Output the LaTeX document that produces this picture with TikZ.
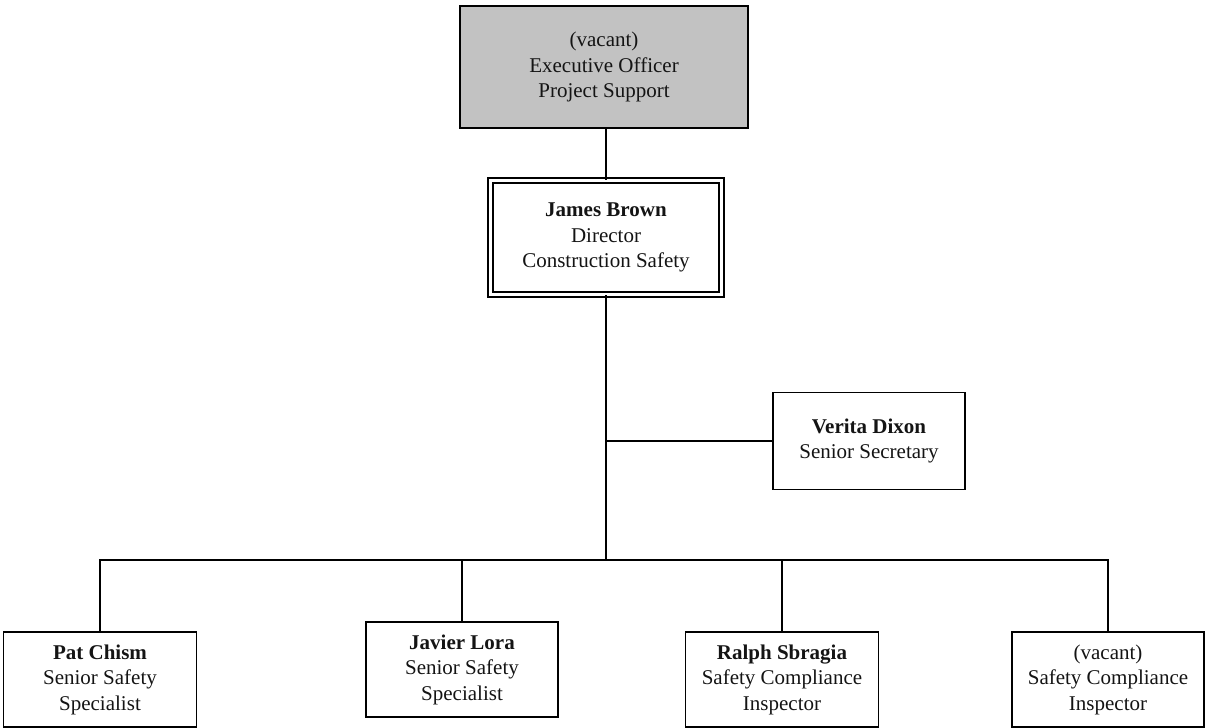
\documentclass[tikz,border=0pt]{standalone}
\usepackage{fontspec}
\setmainfont{Liberation Serif}
\definecolor{boxgray}{RGB}{194,194,194}
\tikzset{
  box/.style={draw=black, line width=1.8pt, align=center, inner sep=0pt,
    font=\fontsize{21}{25.5}\selectfont, text=black!92},
  conn/.style={draw=black, line width=1.8pt},
}
\begin{document}
\begin{tikzpicture}[x=1pt,y=-1pt]
\useasboundingbox (0,0) rectangle (1205,728);
\node[box, fill=boxgray, minimum width=288pt, minimum height=122pt] (top) at (604,67)
  {(vacant)\\Executive Officer\\Project Support};
\node[box, double, double distance=3.5pt, line width=1.3pt, minimum width=231pt, minimum height=114pt] (james) at (606,237.5)
  {\textbf{James Brown}\\Director\\Construction Safety};
\node[box, minimum width=192pt, minimum height=97pt] (verita) at (869,441)
  {\textbf{Verita Dixon}\\Senior Secretary};
\node[box, minimum width=193pt, minimum height=95pt] (pat) at (100,679.5)
  {\textbf{Pat Chism}\\Senior Safety\\Specialist};
\node[box, minimum width=192pt, minimum height=95pt] (javier) at (462,669.5)
  {\textbf{Javier Lora}\\Senior Safety\\Specialist};
\node[box, minimum width=193pt, minimum height=95pt] (ralph) at (782,679.5)
  {\textbf{Ralph Sbragia}\\Safety Compliance\\Inspector};
\node[box, minimum width=192pt, minimum height=95pt] (vac) at (1108,679.5)
  {(vacant)\\Safety Compliance\\Inspector};
\coordinate (bus) at (606,560);
\draw[conn] (james.north) -- (james.north |- top.south);
\draw[conn] (james.south) -- (bus);
\draw[conn] (verita.west) -- (verita.west -| bus);
\draw[conn] (pat.north) |- (bus);
\draw[conn] (javier.north) |- (bus);
\draw[conn] (ralph.north) |- (bus);
\draw[conn] (vac.north) |- (bus);
\end{tikzpicture}
\end{document}
